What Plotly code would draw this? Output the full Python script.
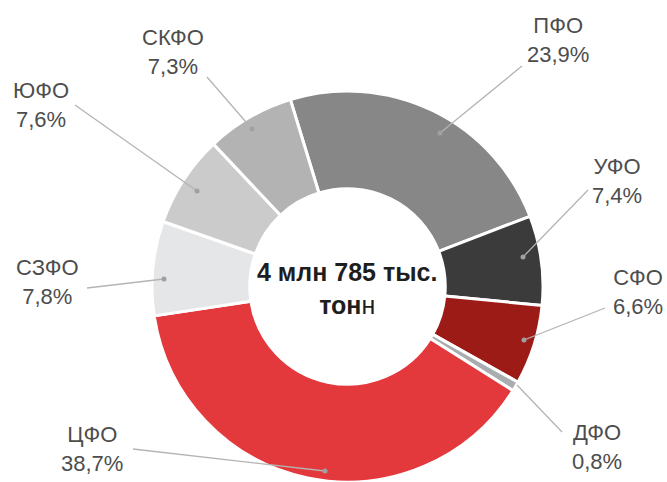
import plotly.graph_objects as go

W, H = 667, 482

# districts, clockwise from the top
regions = ["ПФО", "УФО", "СФО", "ДФО", "ЦФО", "СЗФО", "ЮФО", "СКФО"]
shares = [23.9, 7.4, 6.6, 0.8, 38.7, 7.8, 7.6, 7.3]
colors = ["#878787", "#3b3b3b", "#9c1b17", "#a9adb0",
          "#e3383c", "#e5e6e8", "#cbcbcb", "#b3b3b3"]

# label block centre (px) and leader line start/end (px)
label_pos = [(558, 40), (617, 181), (638, 292), (597, 447),
             (92, 449), (48, 282), (41, 105), (173, 52)]
leader = [((522, 66), (440, 133)), ((588, 190), (523, 257)),
          ((605, 308), (524, 340)), ((562, 432), (517, 385)),
          ((133, 449), (325, 471)), ((87, 288), (164, 279)),
          ((75, 105), (197, 191)), ((207, 77), (252, 129))]
dotted = [True, True, True, False, True, True, True, True]


def px(x, y):
    return x / W, 1 - y / H


cx, cy, r = 347.5, 286.5, 195.5
fig = go.Figure(go.Pie(
    labels=regions, values=shares, sort=False, direction="clockwise",
    rotation=-17, hole=0.5, textinfo="none", hoverinfo="label+percent",
    marker=dict(colors=colors, line=dict(color="white", width=3)),
    domain=dict(x=[(cx - r) / W, (cx + r) / W],
                y=[max(0, (H - cy - r) / H), (H - cy + r) / H]),
    showlegend=False,
))

shapes = []
for (a, b), d in zip(leader, dotted):
    x0, y0 = px(*a)
    x1, y1 = px(*b)
    shapes.append(dict(type="line", xref="paper", yref="paper", x0=x0, y0=y0,
                       x1=x1, y1=y1, line=dict(color="#b4b4b4", width=1.3),
                       layer="above"))
    if d:
        shapes.append(dict(type="circle", xref="paper", yref="paper",
                           x0=(b[0] - 2.5) / W, x1=(b[0] + 2.5) / W,
                           y0=1 - (b[1] + 2.5) / H, y1=1 - (b[1] - 2.5) / H,
                           fillcolor="#a0a0a0", line=dict(width=0),
                           layer="above"))

annotations = []
for name, v, (lx, ly) in zip(regions, shares, label_pos):
    x, y = px(lx, ly)
    annotations.append(dict(
        x=x, y=y, xref="paper", yref="paper", showarrow=False,
        text=f"{name}<br>{v:.1f}".replace(".", ",") + "%",
        font=dict(family="Liberation Sans, Arial, sans-serif",
                  size=22, color="#4d4d4d"),
        xanchor="center", yanchor="middle", align="center"))

x, y = px(347, 288)
annotations.append(dict(
    x=x, y=y, xref="paper", yref="paper", showarrow=False,
    text="<b>4 млн 785 тыс.</b><br><b>тон</b>н",
    font=dict(family="Liberation Sans, Arial, sans-serif", size=25,
              color="#1e1e1e"),
    xanchor="center", yanchor="middle", align="center"))

fig.update_layout(
    width=W, height=H, margin=dict(l=0, r=0, t=0, b=0),
    paper_bgcolor="white", plot_bgcolor="white",
    shapes=shapes, annotations=annotations,
)

fig.write_html("out.html", config={"displayModeBar": False},
               post_script="document.body.style.margin='0';")
